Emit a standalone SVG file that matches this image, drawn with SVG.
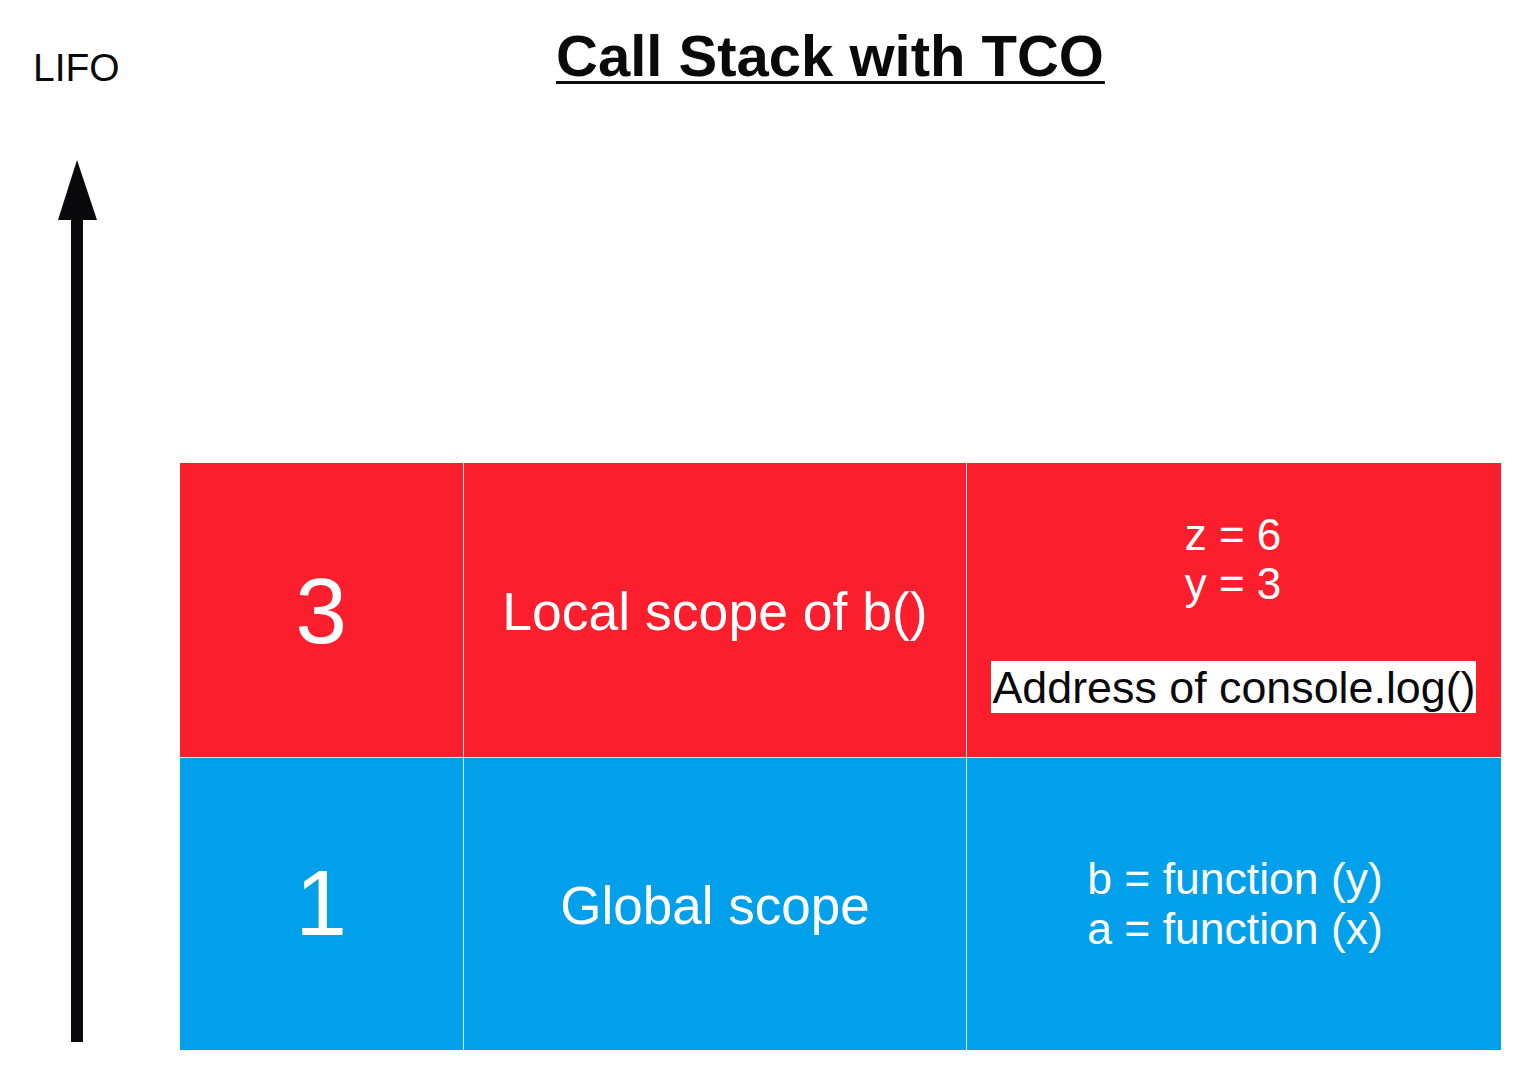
<svg xmlns="http://www.w3.org/2000/svg" width="1534" height="1086" viewBox="0 0 1534 1086">
<style>
  text { font-family: "Liberation Sans", Arial, sans-serif; }
  .red { fill: #fb1f2d; }
  .blue { fill: #02a0ea; }
  .w { fill: #ffffff; text-anchor: middle; }
  .div { stroke: #ffffff; stroke-width: 1; opacity: 0.85; }
</style>
<rect width="1534" height="1086" fill="#ffffff"/>
<g id="title">
  <text x="830" y="76" font-size="58" font-weight="bold" text-anchor="middle" fill="#0a0a0c">Call Stack with TCO</text>
  <rect x="556" y="81" width="549" height="3" fill="#0a0a0c"/>
</g>
<g id="lifo">
  <text x="33" y="81" font-size="39" fill="#0a0a0c">LIFO</text>
</g>
<g id="connectors">
  <rect x="71" y="215" width="12" height="827" fill="#0a0a0c"/>
  <polygon points="77,160 97,220 58,220" fill="#0a0a0c"/>
</g>
<g id="frame3">
  <rect class="red" x="180" y="463" width="1321" height="294"/>
  <g id="frame3-num"><text class="w" x="321" y="643" font-size="93">3</text></g>
  <g id="frame3-scope"><text class="w" x="715" y="630" font-size="53.5">Local scope of b()</text></g>
  <g id="frame3-vars">
    <text class="w" x="1233" y="550" font-size="44">z = 6</text>
    <text class="w" x="1233" y="599" font-size="44">y = 3</text>
    <rect x="991" y="661" width="485" height="52" fill="#ffffff"/>
    <text x="1234" y="703" font-size="44.8" text-anchor="middle" fill="#0a0a0c">Address of console.log()</text>
  </g>
</g>
<g id="frame1">
  <rect class="blue" x="180" y="757" width="1321" height="293"/>
  <g id="frame1-num"><text class="w" x="321" y="935" font-size="93">1</text></g>
  <g id="frame1-scope"><text class="w" x="715" y="924" font-size="53">Global scope</text></g>
  <g id="frame1-vars">
    <text class="w" x="1235" y="894" font-size="44.5">b = function (y)</text>
    <text class="w" x="1235" y="944" font-size="44.5">a = function (x)</text>
  </g>
</g>
<g id="dividers">
  <line class="div" x1="463.5" y1="463" x2="463.5" y2="1050"/>
  <line class="div" x1="966.5" y1="463" x2="966.5" y2="1050"/>
  <line class="div" x1="180" y1="757.5" x2="1501" y2="757.5" opacity="0.5"/>
</g>
</svg>
